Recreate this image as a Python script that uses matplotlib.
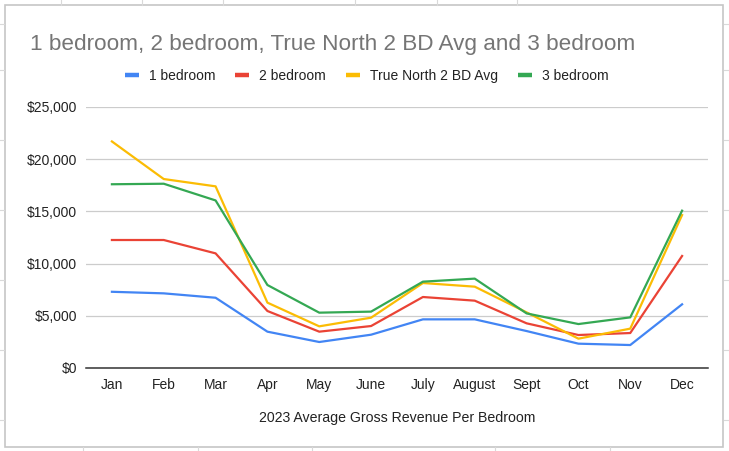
#!/usr/bin/env python3

import matplotlib
matplotlib.use("Agg")
import matplotlib.pyplot as plt
from matplotlib.lines import Line2D
from matplotlib.patches import Rectangle
from matplotlib.ticker import FuncFormatter

# data
months = ["Jan", "Feb", "Mar", "Apr", "May", "June", "July", "August", "Sept", "Oct", "Nov", "Dec"]
one_bed = [7300, 7150, 6730, 3480, 2490, 3190, 4660, 4660, 3540, 2330, 2200, 6100]
two_bed = [12260, 12260, 10980, 5460, 3480, 4020, 6800, 6450, 4280, 3160, 3350, 10730]
true_north = [21700, 18100, 17400, 6260, 3990, 4820, 8140, 7790, 5330, 2810, 3770, 14650]
three_bed = [17600, 17650, 16050, 7950, 5300, 5400, 8270, 8560, 5230, 4210, 4850, 15070]

series_names = ["1 bedroom", "2 bedroom", "True North 2 BD Avg", "3 bedroom"]
series_colors = ["#4285F4", "#EA4335", "#FBBC04", "#34A853"]

W, H = 729, 451
plt.rcParams['font.family'] = ['Liberation Sans', 'DejaVu Sans']

fig = plt.figure(figsize=(W / 100, H / 100), dpi=100)

# spreadsheet cells behind the chart object
for x in [61, 142, 223, 355, 437, 517]:
    fig.add_artist(Line2D([x / W, x / W], [1 - 0 / H, 1 - 5 / H], color="#d9d9d9", lw=0.8))
for x in [83, 198, 312, 495, 610]:
    fig.add_artist(Line2D([x / W, x / W], [0, 4 / H], color="#d9d9d9", lw=0.8))
for y in [24, 70, 140, 210, 280, 350, 420]:
    fig.add_artist(Line2D([0, 4 / W], [1 - y / H, 1 - y / H], color="#d9d9d9", lw=0.8))
    fig.add_artist(Line2D([724 / W, 1], [1 - y / H, 1 - y / H], color="#d9d9d9", lw=0.8))
box = Rectangle((5 / W, 4 / H), 718 / W, 442 / H, transform=fig.transFigure,
                facecolor="white", edgecolor="#c6c6c6", lw=1.2, zorder=-5)
fig.add_artist(box)

ax = fig.add_axes([86 / W, 1 - 368 / H, (708 - 86) / W, (368 - 107) / H])
ax.set_zorder(2)
ax.patch.set_visible(False)
x = list(range(len(months)))
for vals, name, col in zip([one_bed, two_bed, true_north, three_bed], series_names, series_colors):
    ax.plot(x, vals, color=col, lw=1.6, label=name, solid_joinstyle="round")

ax.set_xlim(-0.5, 11.5)
ax.set_ylim(0, 25000)
ax.set_yticks([0, 5000, 10000, 15000, 20000, 25000])
ax.yaxis.set_major_formatter(FuncFormatter(lambda v, p: "${:,.0f}".format(v)))
ax.set_xticks(x)
ax.set_xticklabels(months)
ax.grid(axis="y", color="#cccccc", lw=0.9)
ax.set_axisbelow(True)
for s in ["top", "right", "left"]:
    ax.spines[s].set_visible(False)
ax.spines["bottom"].set_color("#333333")
ax.spines["bottom"].set_linewidth(1.1)
ax.tick_params(length=0, labelsize=10, colors="#222222")
ax.tick_params(axis="y", pad=6.5)
ax.tick_params(axis="x", pad=7)
ax.set_xlabel("2023 Average Gross Revenue Per Bedroom", fontsize=10.2, color="#222222", labelpad=14)

fig.text(30 / W, 1 - 50 / H, "1 bedroom, 2 bedroom, True North 2 BD Avg and 3 bedroom",
         fontsize=16.2, color="#757575", va="baseline", ha="left")

handles = [Line2D([], [], color=c, lw=3.2, solid_capstyle="butt") for c in series_colors]
fig.legend(handles, series_names, loc="center", bbox_to_anchor=(366.5 / W, 1 - 76 / H), ncol=4,
           frameon=False, fontsize=10, handlelength=1.0, handletextpad=0.72, columnspacing=1.44,
           labelcolor="#222222")

fig.savefig("out.png", dpi=100)
